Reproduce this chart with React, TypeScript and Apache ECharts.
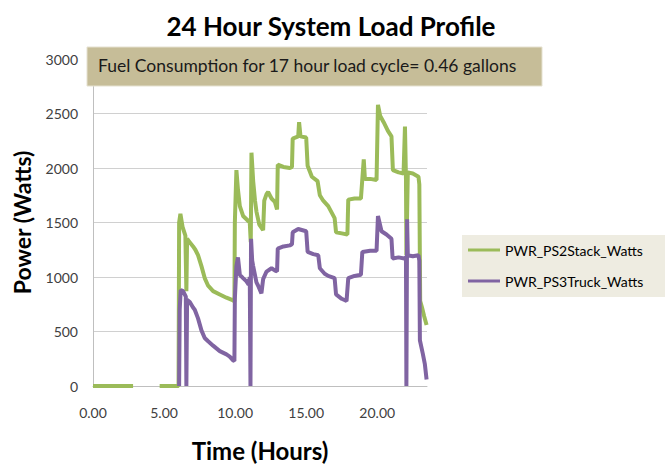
import React, { useEffect, useRef } from "react";
import * as echarts from "echarts";

const seriesNames = ["PWR_PS2Stack_Watts", "PWR_PS3Truck_Watts"];
const xTickHours = [0, 5, 10, 15, 20];

const stackHours = [
  0, 2.82, 2.83, 4.69, 6.02, 6.06, 6.15, 6.3, 6.5, 6.57, 6.62, 6.8, 7.04, 7.2, 7.39, 7.63, 7.86, 8.1, 8.45, 8.92,
  9.39, 9.86, 9.95, 9.98, 10.09, 10.2, 10.33, 10.56, 10.8, 11.03, 11.1, 11.15, 11.27, 11.4, 11.5, 11.7, 11.97,
  12.05, 12.21, 12.32, 12.56, 12.79, 12.95, 13.0, 13.4, 13.85, 14.0, 14.05, 14.44, 14.5, 14.6, 15.0, 15.1, 15.4,
  15.8, 15.96, 16.2, 16.55, 17.0, 17.1, 17.5, 17.9, 17.96, 18.4, 18.85, 18.95, 19.05, 19.13, 19.5, 19.95, 20.05,
  20.2, 20.45, 20.75, 21.0, 21.1, 21.5, 21.85, 21.95, 22.02, 22.05, 22.15, 22.5, 22.9, 22.96, 23.02, 23.15, 23.3,
  23.47,
];
const stackWatts = [
  0, 0, null, 0, 0, 1500, 1580, 1460, 1380, 870, 1350, 1320, 1280, 1250, 1200, 1100, 990, 920, 870, 840,
  810, 785, 775, 1500, 1980, 1800, 1650, 1560, 1530, 1500, 1320, 2140, 1880, 1700, 1600, 1480, 1430,
  1700, 1760, 1780, 1720, 1690, 1620, 2030, 2010, 2000, 2010, 2270, 2290, 2420, 2290, 2280, 2020, 1920,
  1880, 1750, 1700, 1650, 1540, 1410, 1400, 1390, 1710, 1720, 1720, 1900, 2080, 1900, 1900, 1890, 2580,
  2480, 2420, 2340, 2290, 1980, 1960, 1950, 2380, 1900, 1200, 1960, 1950, 1920, 1850, 780, 720, 640,
  560,
];

const truckHours = [
  6.06, 6.1, 6.17, 6.34, 6.53, 6.57, 6.62, 6.81, 7.04, 7.16, 7.39, 7.63, 7.86, 8.1, 8.45, 8.92, 9.39, 9.62, 9.86,
  9.95, 9.98, 10.09, 10.2, 10.33, 10.56, 10.8, 10.95, 11.03, 11.08, 11.12, 11.2, 11.27, 11.5, 11.62, 11.85, 11.97,
  12.21, 12.56, 12.79, 12.95, 13.0, 13.4, 13.85, 14.0, 14.05, 14.44, 15.0, 15.1, 15.5, 15.85, 15.96, 16.3, 16.55,
  17.0, 17.1, 17.5, 17.84, 17.96, 18.4, 18.85, 18.95, 19.5, 19.95, 20.05, 20.3, 20.65, 21.0, 21.08, 21.5, 21.9,
  22.02, 22.05, 22.1, 22.15, 22.5, 22.9, 22.96, 23.0, 23.2, 23.35, 23.47,
];
const truckWatts = [
  0, 700, 880, 870, 820, 0, 790, 770, 720, 700, 620, 510, 440, 410, 370, 320, 290, 270, 235,
  230, 800, 1100, 1180, 1020, 990, 960, 930, 1000, 0, 1350, 1150, 1100, 950, 920, 850, 980,
  1050, 1080, 1060, 1050, 1260, 1280, 1290, 1300, 1410, 1440, 1420, 1230, 1210, 1200, 1080, 1030, 1010,
  990, 840, 800, 780, 990, 1010, 1020, 1230, 1240, 1240, 1560, 1420, 1390, 1350, 1170, 1180, 1170,
  1180, 0, 1530, 1200, 1190, 1200, 1150, 420, 300, 200, 60,
];

const pairs = (hs: number[], ws: (number | null)[]) =>
  hs.map((h, i) => [h, ws[i] === null ? "-" : ws[i]]);

const FONT = "Lato, 'Open Sans', sans-serif";

export default function App() {
  const ref = useRef<HTMLDivElement>(null);
  useEffect(() => {
    document.body.style.margin = "0";
    if (!ref.current) return;
    const chart = echarts.init(ref.current, undefined, { renderer: "svg" });
    chart.setOption({
      animation: false,
      backgroundColor: "#ffffff",
      textStyle: { fontFamily: FONT },
      grid: { left: 93, right: 238, top: 59, bottom: 78, containLabel: false },
      xAxis: {
        type: "value",
        min: 0,
        max: 23.5,
        interval: 5,
        axisLine: { show: true, lineStyle: { color: "#bfbfbf", width: 1 } },
        axisTick: { show: false },
        splitLine: { show: false },
        axisLabel: {
          showMaxLabel: false,
          color: "#404040",
          fontSize: 14,
          fontFamily: FONT,
          margin: 19,
          formatter: (v: number) => (xTickHours.includes(v) ? v.toFixed(2) : ""),
        },
        name: "Time (Hours)",
        nameLocation: "middle",
        nameGap: 52,
        nameTextStyle: { fontSize: 24, fontWeight: "bold", color: "#000", fontFamily: FONT },
      },
      yAxis: {
        type: "value",
        min: 0,
        max: 3000,
        interval: 500,
        axisLine: { show: true, lineStyle: { color: "#bfbfbf", width: 1 } },
        axisTick: { show: false },
        splitLine: { show: true, lineStyle: { color: "#d0d0d0", width: 1 } },
        axisLabel: {
          color: "#404040",
          fontSize: 14,
          fontFamily: FONT,
          margin: 15,
          formatter: (v: number) => String(v),
        },
        name: "Power (Watts)",
        nameLocation: "middle",
        nameGap: 60,
        nameRotate: 90,
        nameTextStyle: { fontSize: 23, fontWeight: "bold", color: "#000", fontFamily: FONT },
      },
      title: {
        text: "24 Hour System Load Profile",
        left: 326,
        textAlign: "center",
        top: 8,
        textStyle: { fontSize: 26, fontWeight: "bold", color: "#000", fontFamily: FONT },
      },
      legend: {
        orient: "vertical",
        left: 462,
        top: 235,
        backgroundColor: "#eeece1",
        padding: [7, 22, 8, 6],
        itemGap: 15,
        itemWidth: 32,
        itemHeight: 3,
        icon: "rect",
        textStyle: { fontSize: 14, color: "#000", fontFamily: FONT, lineHeight: 16 },
        data: seriesNames,
      },
      graphic: [
        {
          type: "rect",
          shape: { x: 87, y: 47, width: 455, height: 39 },
          style: { fill: "#c6bd98", stroke: "#e5e1d0", lineWidth: 1 },
          z: 100,
        },
        {
          type: "text",
          x: 98,
          y: 65,
          style: {
            text: "Fuel Consumption for 17 hour load cycle= 0.46 gallons",
            fill: "#1a1a1a",
            fontSize: 17.5,
            fontFamily: FONT,
            verticalAlign: "middle",
          },
          z: 101,
        },
      ],
      series: [
        {
          name: seriesNames[0],
          type: "line",
          data: pairs(stackHours, stackWatts),
          showSymbol: false,
          connectNulls: false,
          color: "#9bbb59",
          lineStyle: { color: "#9bbb59", width: 4 },
        },
        {
          name: seriesNames[1],
          type: "line",
          data: pairs(truckHours, truckWatts),
          showSymbol: false,
          color: "#8064a2",
          lineStyle: { color: "#8064a2", width: 4 },
        },
      ],
    });
    return () => chart.dispose();
  }, []);
  return <div ref={ref} style={{ width: 665, height: 467 }} />;
}
